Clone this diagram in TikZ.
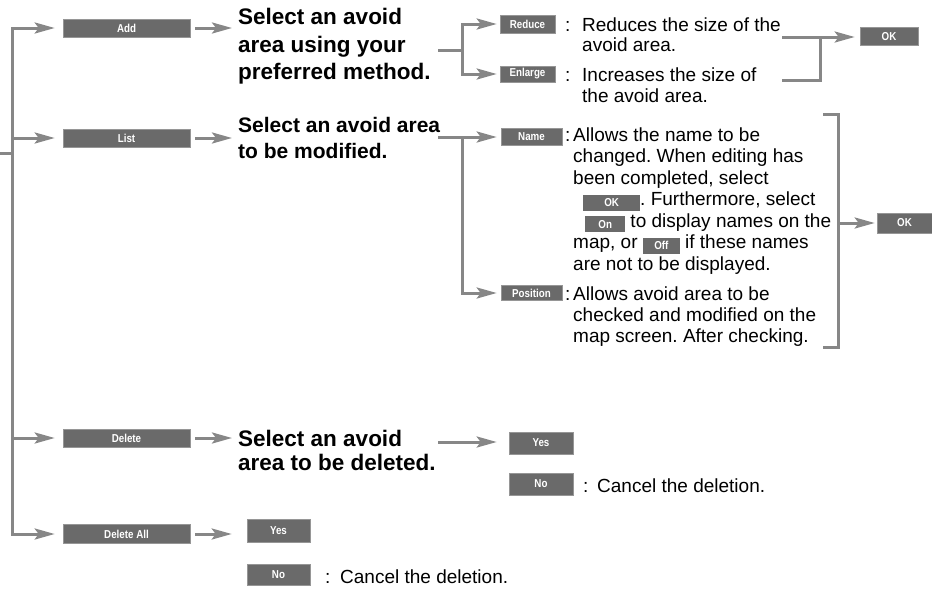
\documentclass[tikz,border=0pt]{standalone}
\usepackage{fontspec}
\setmainfont{Liberation Sans}
\newfontfamily\btnfamily[FakeStretch=0.85]{Liberation Sans}
\usepackage{xcolor}
\usepackage{tikz}
\usetikzlibrary{arrows.meta,positioning,calc}
\frenchspacing

\definecolor{btngray}{RGB}{106,106,106}
\definecolor{btnedge}{RGB}{150,150,150}
\definecolor{linkgray}{RGB}{135,135,135}

\newcommand{\btnfont}{\btnfamily\bfseries\fontsize{11.5}{12}\selectfont}
% inline screen button inside the description text
\newcommand{\inbtn}[2]{{\setlength{\fboxsep}{0pt}\raisebox{-5pt}{\colorbox{btngray}{\makebox[#1][c]{\rule{0pt}{16pt}\raisebox{4pt}{\textcolor{white}{\btnfont #2}}}}}}}

\tikzset{
  menubtn/.style={rectangle, fill=btngray, draw=btnedge, line width=0.6pt,
    minimum width=127pt, minimum height=18pt, inner sep=0pt, text=white, font=\btnfont},
  optbtn/.style={menubtn, minimum width=55pt},
  headtext/.style={anchor=north west, inner sep=0pt, align=left,
    font=\bfseries\fontsize{22.5}{27.5}\selectfont},
  desctext/.style={anchor=north west, inner sep=0pt, align=left,
    font=\fontsize{19}{21.5}\selectfont},
  linetext/.style={anchor=base west, inner sep=0pt, font=\fontsize{19}{21.5}\selectfont},
  flowline/.style={draw=linkgray, line width=3pt, line join=miter},
  flowarrow/.style={flowline, -{Stealth[length=20pt, width=11pt, inset=4pt]}},
}

\begin{document}
\begin{tikzpicture}[x=1pt, y=-1pt]
  \useasboundingbox (0,0) rectangle (932,590);

  % Main menu buttons (left column)
  \node[menubtn] (add) at (126.5,28) {Add};
  \node[menubtn] (list) at (126.5,138) {List};
  \node[menubtn] (delete) at (126.5,438) {Delete};
  \node[menubtn, minimum height=19pt] (delall) at (126.5,534) {Delete All};

  % Spine on the left
  \coordinate (entry) at (0,153);
  \coordinate (sp-entry) at (12,153);
  \coordinate (sp-add) at (12,28);
  \coordinate (sp-list) at (12,138);
  \coordinate (sp-del) at (12,438);
  \coordinate (sp-all) at (12,534);

  % Headings after each button
  \node[headtext] (addhead) at (238,8) {Select an avoid\\area using your\\preferred method.};
  \node[headtext, font=\bfseries\fontsize{21}{26}\selectfont] (listhead) at (238,116.7)
    {Select an avoid area\\to be modified.};
  \node[headtext, font=\bfseries\fontsize{22.5}{24}\selectfont] (delhead) at (238,429.6)
    {Select an avoid\\area to be deleted.};

  % Add: reduce / enlarge
  \node[optbtn] (reduce) at (527.5,24) {Reduce};
  \node[optbtn, minimum height=16pt] (enlarge) at (527.5,74) {Enlarge};
  \node[linetext] (redcolon) at (565,31) {:};
  \node[linetext] (enlcolon) at (565,81) {:};
  \node[desctext, font=\fontsize{19}{20}\selectfont] (redtext) at (582,17.2)
    {Reduces the size of the\\avoid area.};
  \node[desctext, font=\fontsize{19}{21}\selectfont] (enltext) at (582,67.2)
    {Increases the size of\\the avoid area.};
  \node[optbtn, minimum width=58pt] (okadd) at (889,36.5) {OK};
  \coordinate (addout) at (438,50);
  \coordinate (addfork) at (462,50);
  \coordinate (redend) at (782,37);
  \coordinate (enlend) at (782,80);
  \coordinate (okfork) at (820,37);

  % List: name / position
  \node[optbtn, minimum width=61pt, minimum height=17pt] (name) at (531.5,137) {Name};
  \node[optbtn, minimum width=61pt, minimum height=15pt] (position) at (531.5,293) {Position};
  \node[linetext] (namecolon) at (565,141) {:};
  \node[linetext] (poscolon) at (565,300) {:};
  \node[desctext] (nametext) at (573,127.2)
    {Allows the name to be\\
     changed. When editing has\\
     been completed, select\\
     \hspace*{10pt}\inbtn{57pt}{OK}. Furthermore, select\\
     \hspace*{12pt}\inbtn{40pt}{On} to display names on the\\
     map, or \inbtn{37pt}{Off} if these names\\
     are not to be displayed.};
  \node[desctext, font=\fontsize{19}{21}\selectfont] (postext) at (573,286.2)
    {Allows avoid area to be\\checked and modified on the\\map screen. After checking.};
  \node[optbtn, minimum height=20pt] (oklist) at (904.5,223) {OK};
  \coordinate (listout) at (438,137);
  \coordinate (listfork) at (462,137);
  \coordinate (brtop) at (823,114);
  \coordinate (brmid) at (838,223);
  \coordinate (brbot) at (823,347);

  % Delete: yes / no
  \node[optbtn, minimum width=64pt, minimum height=22pt] (delyes) at (541,443) {Yes};
  \node[optbtn, minimum width=64pt, minimum height=22pt] (delno) at (541,484) {No};
  \node[linetext] (delcolon) at (583,492) {:};
  \node[linetext] (deltext) at (597,492) {Cancel the deletion.};
  \coordinate (delout) at (438,442);

  % Delete All: yes / no
  \node[optbtn, minimum width=63pt, minimum height=23pt] (allyes) at (278.5,530.5) {Yes};
  \node[optbtn, minimum width=63pt, minimum height=21pt] (allno) at (278.5,574.5) {No};
  \node[linetext] (allcolon) at (325,583) {:};
  \node[linetext] (alltext) at (340,583) {Cancel the deletion.};

  % Arrows: spine to main buttons
  \draw[flowline] (entry) -- (sp-entry);
  \draw[flowline, line cap=rect] (sp-add) -- (sp-all);
  \draw[flowarrow, shorten >=8pt] (sp-add) -- (add.west);
  \draw[flowarrow, shorten >=8pt] (sp-list) -- (list.west);
  \draw[flowarrow, shorten >=8pt] (sp-del) -- (delete.west);
  \draw[flowarrow, shorten >=8pt] (sp-all) -- (delall.west);

  % Arrows: buttons to headings
  \draw[flowarrow, shorten <=5pt, shorten >=6pt] (add.east) -- (add.east -| addhead.west);
  \draw[flowarrow, shorten <=5pt, shorten >=6pt] (list.east) -- (list.east -| listhead.west);
  \draw[flowarrow, shorten <=5pt, shorten >=6pt] (delete.east) -- (delete.east -| delhead.west);
  \draw[flowarrow, shorten <=5pt, shorten >=15pt] (delall.east) -- (delall.east -| allyes.west);

  % Arrows: add branch
  \draw[flowarrow, shorten >=3pt] (addout) -- (addfork) |- (reduce.west);
  \draw[flowarrow, shorten >=3pt] (addfork) |- (enlarge.west);
  \draw[flowarrow, shorten >=5pt] (redend) -- (redend -| okadd.west);
  \draw[flowline] (enlend) -| (okfork);

  % Arrows: list branch
  \draw[flowarrow, shorten >=4pt] (listout) -- (listout -| name.west);
  \draw[flowarrow, shorten >=4pt] (listfork) |- (position.west);
  \draw[flowline] (brtop) -| (brmid) |- (brbot);
  \draw[flowarrow, shorten >=2pt] (brmid) -- (oklist.west);

  % Arrows: delete branch
  \draw[flowarrow, shorten >=12pt] (delout) -- (delout -| delyes.west);

\end{tikzpicture}
\end{document}
